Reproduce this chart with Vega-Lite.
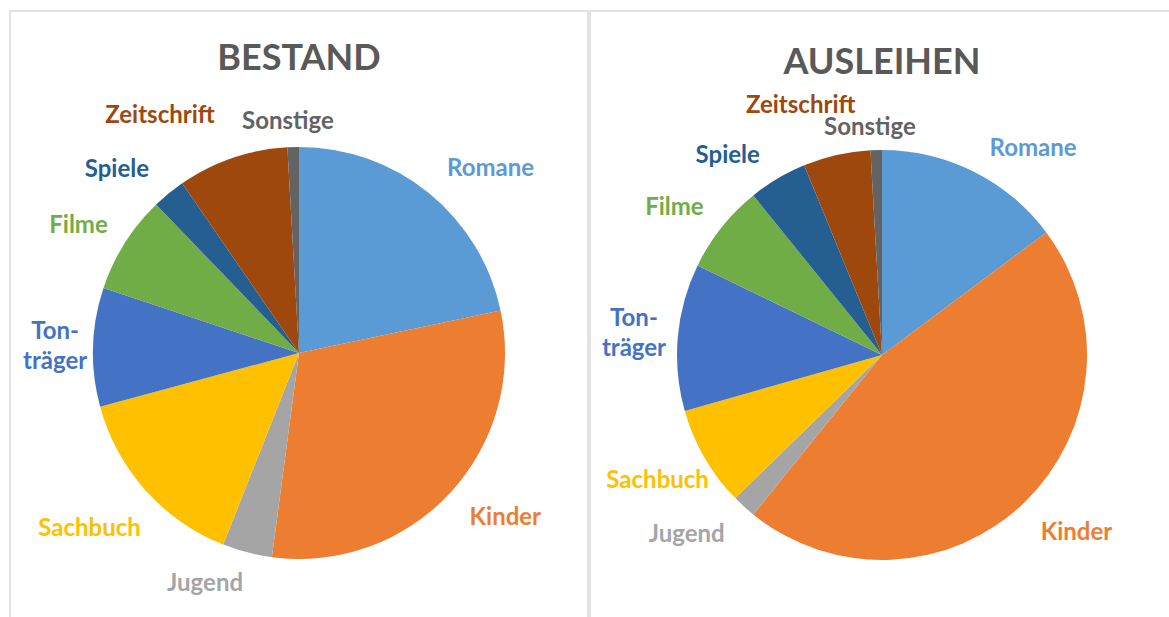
{
  "$schema": "https://vega.github.io/schema/vega-lite/v6.json",
  "padding": {"left": 9, "top": 10, "right": 0, "bottom": 0},
  "spacing": 0,
  "background": "white",
  "data": {
    "values": [
      {"chart": "BESTAND", "idx": 1, "category": "Romane", "label": "Romane", "value": 21.7},
      {"chart": "BESTAND", "idx": 2, "category": "Kinder", "label": "Kinder", "value": 30.4},
      {"chart": "BESTAND", "idx": 3, "category": "Jugend", "label": "Jugend", "value": 3.9},
      {"chart": "BESTAND", "idx": 4, "category": "Sachbuch", "label": "Sachbuch", "value": 14.8},
      {"chart": "BESTAND", "idx": 5, "category": "Tonträger", "label": "Ton-\nträger", "value": 9.3},
      {"chart": "BESTAND", "idx": 6, "category": "Filme", "label": "Filme", "value": 7.7},
      {"chart": "BESTAND", "idx": 7, "category": "Spiele", "label": "Spiele", "value": 2.6},
      {"chart": "BESTAND", "idx": 8, "category": "Zeitschrift", "label": "Zeitschrift", "value": 8.7},
      {"chart": "BESTAND", "idx": 9, "category": "Sonstige", "label": "Sonstige", "value": 0.9},
      {"chart": "AUSLEIHEN", "idx": 1, "category": "Romane", "label": "Romane", "value": 14.8},
      {"chart": "AUSLEIHEN", "idx": 2, "category": "Kinder", "label": "Kinder", "value": 46.0},
      {"chart": "AUSLEIHEN", "idx": 3, "category": "Jugend", "label": "Jugend", "value": 1.9},
      {"chart": "AUSLEIHEN", "idx": 4, "category": "Sachbuch", "label": "Sachbuch", "value": 7.9},
      {"chart": "AUSLEIHEN", "idx": 5, "category": "Tonträger", "label": "Ton-\nträger", "value": 11.6},
      {"chart": "AUSLEIHEN", "idx": 6, "category": "Filme", "label": "Filme", "value": 7.0},
      {"chart": "AUSLEIHEN", "idx": 7, "category": "Spiele", "label": "Spiele", "value": 4.6},
      {"chart": "AUSLEIHEN", "idx": 8, "category": "Zeitschrift", "label": "Zeitschrift", "value": 5.3},
      {"chart": "AUSLEIHEN", "idx": 9, "category": "Sonstige", "label": "Sonstige", "value": 0.9}
    ]
  },
  "config": {
    "view": {"stroke": "#d9d9d9", "strokeWidth": 1.5},
    "font": "Lato",
    "title": {"font": "Lato", "fontSize": 36, "fontWeight": "bold", "color": "#595959", "anchor": "middle", "baseline": "top"},
    "text": {"font": "Lato", "fontSize": 24, "fontWeight": "bold", "lineBreak": "\n", "lineHeight": 30, "radius": 250},
    "arc": {"stroke": null}
  },
  "resolve": {"scale": {"color": "shared"}},
  "hconcat": [
    {
      "width": 578,
      "height": 684,
      "view": {"stroke": "#d9d9d9", "strokeWidth": 1.5},
      "title": {"text": "BESTAND", "offset": -67},
      "transform": [
        {"filter": "datum.chart === 'BESTAND'"},
        {"stack": "value", "groupby": ["chart"], "sort": [{"field": "idx", "order": "ascending"}], "as": ["v0", "v1"]},
        {"calculate": "(datum.v0 + datum.v1) / 2", "as": "mid"}
      ],
      "encoding": {
        "color": {"field": "category", "type": "nominal", "legend": null,
          "scale": {"domain": ["Romane", "Kinder", "Jugend", "Sachbuch", "Tonträger", "Filme", "Spiele", "Zeitschrift", "Sonstige"],
                    "range": ["#5B9BD5", "#ED7D31", "#A5A5A5", "#FFC000", "#4472C4", "#70AD47", "#255E91", "#9E480E", "#636363"]}}
      },
      "layer": [
        {
          "mark": {"type": "arc", "outerRadius": 206},
          "encoding": {
            "theta": {"field": "v0", "type": "quantitative", "stack": null, "scale": {"domain": [0, 100]}},
            "theta2": {"field": "v1"}
          }
        },
        {"transform": [{"filter": "datum.category === 'Romane'"}], "mark": {"type": "text", "dx": 34, "dy": 10},
         "encoding": {"theta": {"field": "mid", "type": "quantitative", "stack": null}, "text": {"field": "label", "type": "nominal"}}},
        {"transform": [{"filter": "datum.category === 'Kinder'"}], "mark": {"type": "text", "dx": 23, "dy": -5},
         "encoding": {"theta": {"field": "mid", "type": "quantitative", "stack": null}, "text": {"field": "label", "type": "nominal"}}},
        {"transform": [{"filter": "datum.category === 'Jugend'"}], "mark": {"type": "text", "dx": -31, "dy": -11},
         "encoding": {"theta": {"field": "mid", "type": "quantitative", "stack": null}, "text": {"field": "label", "type": "nominal"}}},
        {"transform": [{"filter": "datum.category === 'Sachbuch'"}], "mark": {"type": "text", "dx": -23, "dy": 9},
         "encoding": {"theta": {"field": "mid", "type": "quantitative", "stack": null}, "text": {"field": "label", "type": "nominal"}}},
        {"transform": [{"filter": "datum.category === 'Tonträger'"}], "mark": {"type": "text", "dx": 6, "dy": -14},
         "encoding": {"theta": {"field": "mid", "type": "quantitative", "stack": null}, "text": {"field": "label", "type": "nominal"}}},
        {"transform": [{"filter": "datum.category === 'Filme'"}], "mark": {"type": "text", "dx": -9, "dy": 6},
         "encoding": {"theta": {"field": "mid", "type": "quantitative", "stack": null}, "text": {"field": "label", "type": "nominal"}}},
        {"transform": [{"filter": "datum.category === 'Spiele'"}], "mark": {"type": "text", "dx": -24, "dy": 11},
         "encoding": {"theta": {"field": "mid", "type": "quantitative", "stack": null}, "text": {"field": "label", "type": "nominal"}}},
        {"transform": [{"filter": "datum.category === 'Zeitschrift'"}], "mark": {"type": "text", "dx": -58, "dy": 0},
         "encoding": {"theta": {"field": "mid", "type": "quantitative", "stack": null}, "text": {"field": "label", "type": "nominal"}}},
        {"transform": [{"filter": "datum.category === 'Sonstige'"}], "mark": {"type": "text", "dx": -4, "dy": 19},
         "encoding": {"theta": {"field": "mid", "type": "quantitative", "stack": null}, "text": {"field": "label", "type": "nominal"}}}
      ]
    },
    {
      "width": 584,
      "height": 688,
      "view": {"stroke": "#d9d9d9", "strokeWidth": 1.5},
      "title": {"text": "AUSLEIHEN", "offset": -71},
      "transform": [
        {"filter": "datum.chart === 'AUSLEIHEN'"},
        {"stack": "value", "groupby": ["chart"], "sort": [{"field": "idx", "order": "ascending"}], "as": ["v0", "v1"]},
        {"calculate": "(datum.v0 + datum.v1) / 2", "as": "mid"}
      ],
      "encoding": {
        "color": {"field": "category", "type": "nominal", "legend": null}
      },
      "layer": [
        {
          "mark": {"type": "arc", "outerRadius": 205},
          "encoding": {
            "theta": {"field": "v0", "type": "quantitative", "stack": null, "scale": {"domain": [0, 100]}},
            "theta2": {"field": "v1"}
          }
        },
        {"transform": [{"filter": "datum.category === 'Romane'"}], "mark": {"type": "text", "dx": 39, "dy": 17},
         "encoding": {"theta": {"field": "mid", "type": "quantitative", "stack": null}, "text": {"field": "label", "type": "nominal"}}},
        {"transform": [{"filter": "datum.category === 'Kinder'"}], "mark": {"type": "text", "dx": 21, "dy": -2},
         "encoding": {"theta": {"field": "mid", "type": "quantitative", "stack": null}, "text": {"field": "label", "type": "nominal"}}},
        {"transform": [{"filter": "datum.category === 'Jugend'"}], "mark": {"type": "text", "dx": -27, "dy": -5},
         "encoding": {"theta": {"field": "mid", "type": "quantitative", "stack": null}, "text": {"field": "label", "type": "nominal"}}},
        {"transform": [{"filter": "datum.category === 'Sachbuch'"}], "mark": {"type": "text", "dx": -8, "dy": 1},
         "encoding": {"theta": {"field": "mid", "type": "quantitative", "stack": null}, "text": {"field": "label", "type": "nominal"}}},
        {"transform": [{"filter": "datum.category === 'Tonträger'"}], "mark": {"type": "text", "dx": 1, "dy": -14},
         "encoding": {"theta": {"field": "mid", "type": "quantitative", "stack": null}, "text": {"field": "label", "type": "nominal"}}},
        {"transform": [{"filter": "datum.category === 'Filme'"}], "mark": {"type": "text", "dx": -12, "dy": 9},
         "encoding": {"theta": {"field": "mid", "type": "quantitative", "stack": null}, "text": {"field": "label", "type": "nominal"}}},
        {"transform": [{"filter": "datum.category === 'Spiele'"}], "mark": {"type": "text", "dx": -27, "dy": 16},
         "encoding": {"theta": {"field": "mid", "type": "quantitative", "stack": null}, "text": {"field": "label", "type": "nominal"}}},
        {"transform": [{"filter": "datum.category === 'Zeitschrift'"}], "mark": {"type": "text", "dx": -26, "dy": -5},
         "encoding": {"theta": {"field": "mid", "type": "quantitative", "stack": null}, "text": {"field": "label", "type": "nominal"}}},
        {"transform": [{"filter": "datum.category === 'Sonstige'"}], "mark": {"type": "text", "dx": -5, "dy": 23},
         "encoding": {"theta": {"field": "mid", "type": "quantitative", "stack": null}, "text": {"field": "label", "type": "nominal"}}}
      ]
    }
  ]
}
